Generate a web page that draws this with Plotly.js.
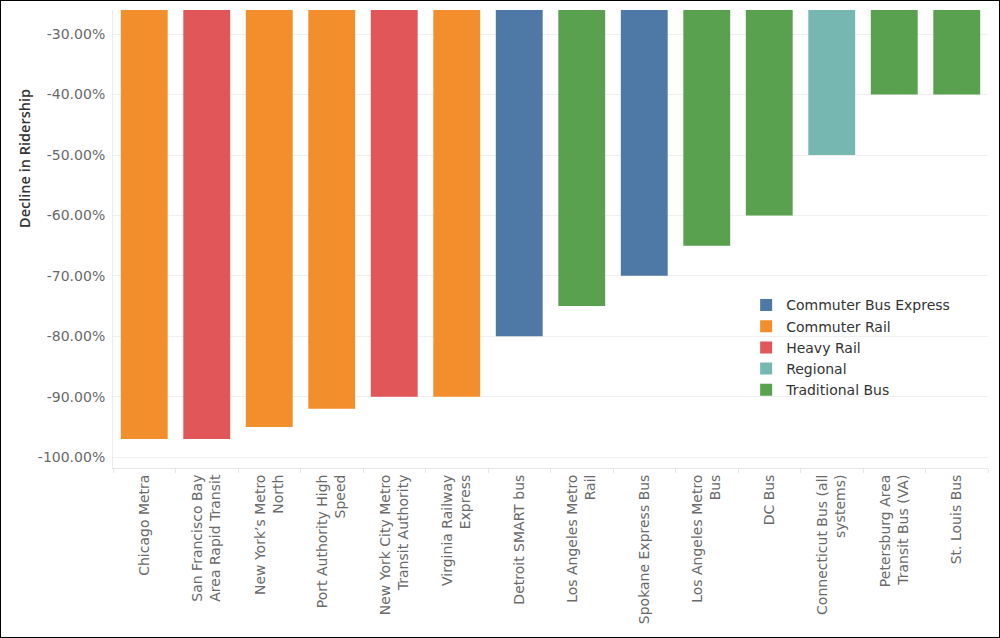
<!DOCTYPE html>
<html>
<head>
<meta charset="utf-8">
<script src="https://cdn.plot.ly/plotly-3.0.1.min.js"></script>
<style>
  html, body { margin: 0; padding: 0; background: #fff; }
  #chart { width: 998px; height: 636px; border: 1px solid #000; }
</style>
</head>
<body>
<div id="chart"></div>
<script>
// Ridership decline by transit agency, coloured by mode
var agencies = [
    'Chicago Metra',
    'San Francisco Bay<br>Area Rapid Transit',
    'New York\u2019s Metro<br>North',
    'Port Authority High<br>Speed',
    'New York City Metro<br>Transit Authority',
    'Virginia Railway<br>Express',
    'Detroit SMART bus',
    'Los Angeles Metro<br>Rail',
    'Spokane Express Bus',
    'Los Angeles Metro<br>Bus',
    'DC Bus',
    'Connecticut Bus (all<br>systems)',
    'Petersburg Area<br>Transit Bus (VA)',
    'St. Louis Bus'
];
var modes = [
    'Commuter Rail', 'Heavy Rail', 'Commuter Rail', 'Commuter Rail', 'Heavy Rail',
    'Commuter Rail', 'Commuter Bus Express', 'Traditional Bus', 'Commuter Bus Express',
    'Traditional Bus', 'Traditional Bus', 'Regional', 'Traditional Bus', 'Traditional Bus'
];
var decline = [-0.97, -0.97, -0.95, -0.92, -0.90, -0.90, -0.80, -0.75, -0.70, -0.65, -0.60, -0.50, -0.40, -0.40];

var modeOrder = ['Commuter Bus Express', 'Commuter Rail', 'Heavy Rail', 'Regional', 'Traditional Bus'];
var modeColors = ['#4e79a7', '#f28e2b', '#e15759', '#76b7b2', '#59a14f'];

// y ticks, written with a plain hyphen like the original
var yTickVals = [-1.0, -0.9, -0.8, -0.7, -0.6, -0.5, -0.4, -0.3];
var yTickText = ['-100.00%', '-90.00%', '-80.00%', '-70.00%', '-60.00%', '-50.00%', '-40.00%', '-30.00%'];

var traces = modeOrder.map(function (mode, m) {
    var xs = [], ys = [];
    for (var i = 0; i < agencies.length; i++) {
        if (modes[i] === mode) {
            xs.push(agencies[i]);
            ys.push(decline[i]);
        }
    }
    return {
        type: 'bar',
        name: mode,
        x: xs,
        y: ys,
        width: 0.75,
        marker: { color: modeColors[m] },
        hoverinfo: 'x+y'
    };
});

var layout = {
    width: 998,
    height: 636,
    margin: { l: 112, r: 11, t: 9, b: 169 },
    paper_bgcolor: '#ffffff',
    plot_bgcolor: '#ffffff',
    barmode: 'overlay',
    font: { family: 'DejaVu Sans, sans-serif', size: 14, color: '#666666' },
    xaxis: {
        type: 'category',
        categoryorder: 'array',
        categoryarray: agencies,
        tickangle: -90,
        ticks: 'outside',
        tickson: 'boundaries',
        ticklen: 4,
        tickcolor: '#e6e6e6',
        showline: true,
        linecolor: '#e6e6e6',
        showgrid: false,
        tickfont: { family: 'DejaVu Sans, sans-serif', size: 14, color: '#6a6a6a' }
    },
    yaxis: {
        range: [-1.018, -0.26],
        tickmode: 'array',
        tickvals: yTickVals,
        ticktext: yTickText,
        showgrid: true,
        gridcolor: '#f0f0f0',
        zeroline: false,
        showline: true,
        linecolor: '#ececec',
        ticks: '',
        ticklabelstandoff: 4,
        tickfont: { family: 'DejaVu Sans, sans-serif', size: 14, color: '#6a6a6a' }
    },
    annotations: [{
        text: 'Decline in Ridership',
        xref: 'paper',
        yref: 'paper',
        x: -0.1006,
        y: 0.677,
        xanchor: 'center',
        yanchor: 'middle',
        textangle: -90,
        showarrow: false,
        font: { family: 'Open Sans, sans-serif', size: 14.5, color: '#333333', weight: 600 }
    }],
    legend: {
        x: 0.7236,
        y: 0.39,
        xanchor: 'left',
        yanchor: 'top',
        bgcolor: 'rgba(0,0,0,0)',
        font: { family: 'DejaVu Sans, sans-serif', size: 14, color: '#333333' }
    },
    showlegend: true
};

Plotly.newPlot('chart', traces, layout, { staticPlot: true });
</script>
</body>
</html>
